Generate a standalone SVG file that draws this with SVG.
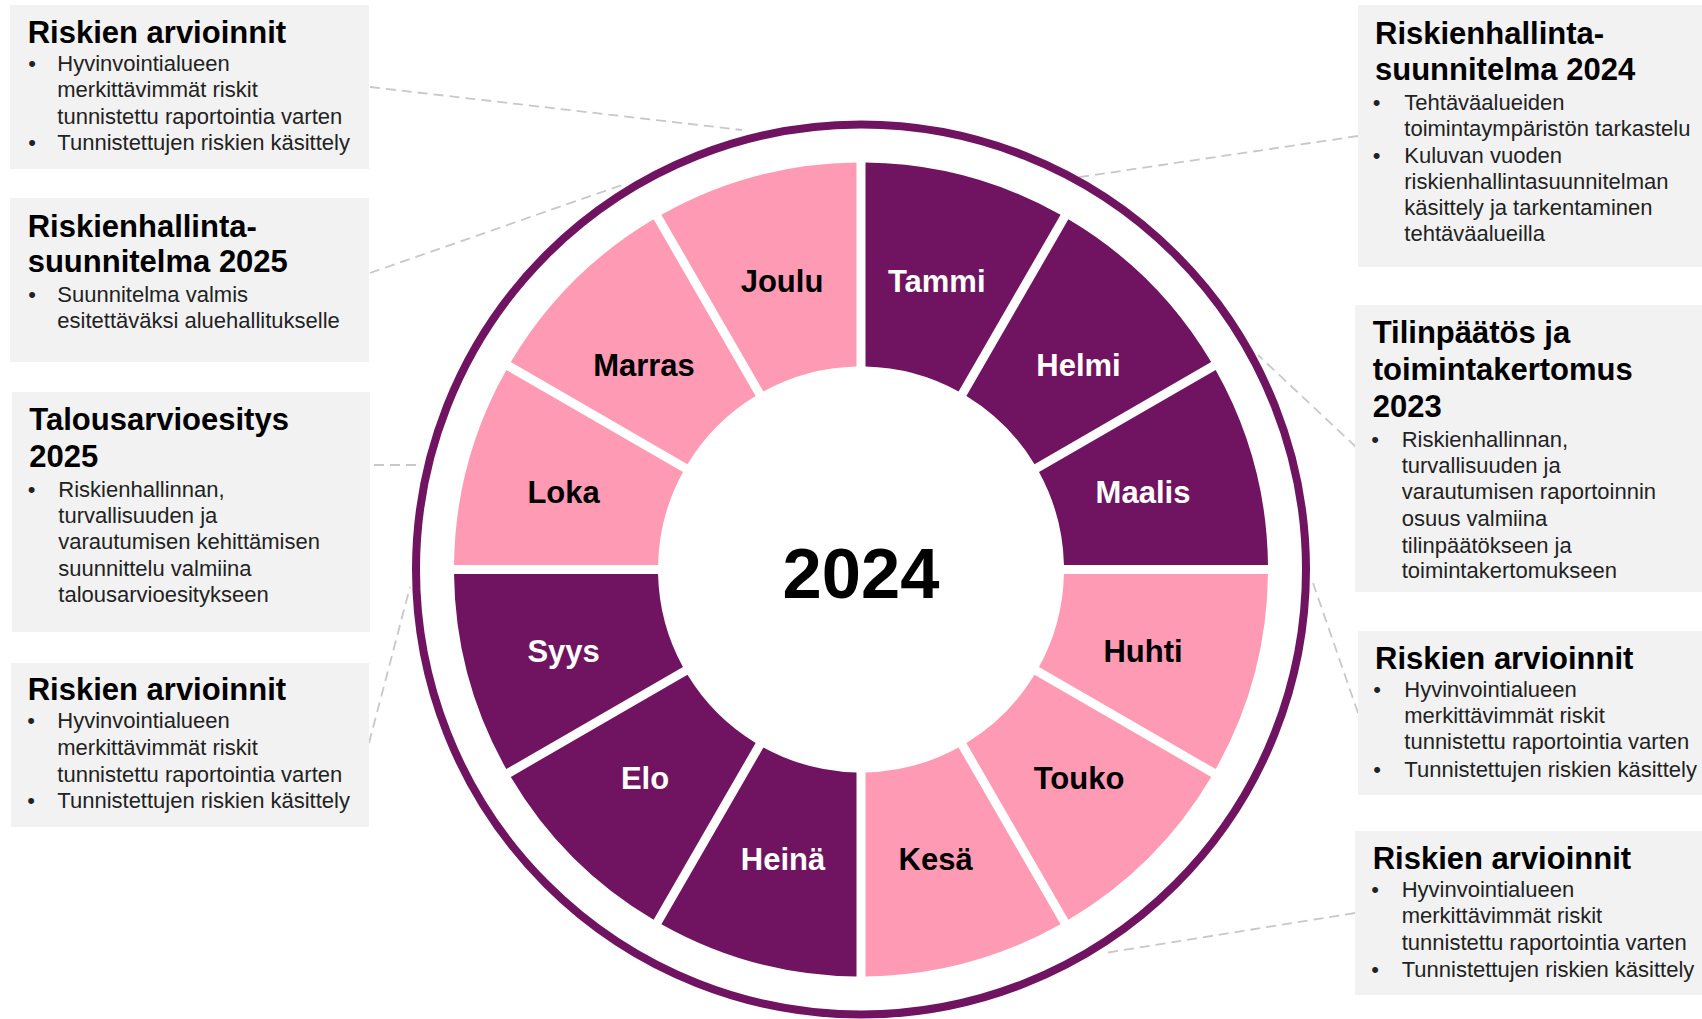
<svg xmlns="http://www.w3.org/2000/svg" xmlns:xlink="http://www.w3.org/1999/xlink" width="1702" height="1019" viewBox="0 0 1702 1019">
<style>
.box{fill:#F2F2F2}
.ttl{font-family:"Liberation Sans",Arial,sans-serif;font-weight:bold;font-size:31px;fill:#000}
.txt{font-family:"Liberation Sans",Arial,sans-serif;font-size:22px;fill:#222}
.bul{font-family:"Liberation Sans",Arial,sans-serif;font-size:22px;fill:#222;text-anchor:middle}
.mon{font-family:"Liberation Sans",Arial,sans-serif;font-weight:bold;font-size:31px;text-anchor:middle}
.dk{fill:#701461}
.pk{fill:#FF9AB4}
.lw{fill:#FFFFFF}
.lb{fill:#000000}
.con{stroke:#C8C8C8;stroke-width:1.8;stroke-dasharray:10 6;fill:none}
</style>
<defs>
<path id="wedge" d="M 865.5 162.525 A 407 407 0 0 1 1060.59 214.8 L 958.58 391.49 A 203 203 0 0 0 865.5 366.55 Z"/>
</defs>
<rect width="1702" height="1019" fill="#FFFFFF"/>
<g id="connectors">
<line class="con" x1="370" y1="87" x2="742" y2="130"/>
<line class="con" x1="370" y1="273" x2="622" y2="185"/>
<line class="con" x1="374" y1="465" x2="416" y2="465"/>
<line class="con" x1="369" y1="743" x2="410" y2="587"/>
<line class="con" x1="1358" y1="136" x2="1077" y2="177.5"/>
<line class="con" x1="1356" y1="447" x2="1258" y2="355"/>
<line class="con" x1="1358" y1="713" x2="1313" y2="583"/>
<line class="con" x1="1355" y1="913" x2="1105" y2="953"/>
</g>
<g id="ring">
<circle cx="861" cy="569.5" r="445" fill="none" stroke="#701461" stroke-width="8"/>
</g>
<g id="tammi"><use xlink:href="#wedge" class="dk"/><text class="mon lw" x="936.7" y="291.5">Tammi</text></g>
<g id="helmi"><use xlink:href="#wedge" class="dk" transform="rotate(30 861 569.5)"/><text class="mon lw" x="1078.5" y="376">Helmi</text></g>
<g id="maalis"><use xlink:href="#wedge" class="dk" transform="rotate(60 861 569.5)"/><text class="mon lw" x="1143" y="503">Maalis</text></g>
<g id="huhti"><use xlink:href="#wedge" class="pk" transform="rotate(90 861 569.5)"/><text class="mon lb" x="1143" y="661.5">Huhti</text></g>
<g id="touko"><use xlink:href="#wedge" class="pk" transform="rotate(120 861 569.5)"/><text class="mon lb" x="1079" y="788.7">Touko</text></g>
<g id="kesa"><use xlink:href="#wedge" class="pk" transform="rotate(150 861 569.5)"/><text class="mon lb" x="935.6" y="869.6">Kesä</text></g>
<g id="heina"><use xlink:href="#wedge" class="dk" transform="rotate(180 861 569.5)"/><text class="mon lw" x="783" y="869.6">Heinä</text></g>
<g id="elo"><use xlink:href="#wedge" class="dk" transform="rotate(210 861 569.5)"/><text class="mon lw" x="645" y="788.7">Elo</text></g>
<g id="syys"><use xlink:href="#wedge" class="dk" transform="rotate(240 861 569.5)"/><text class="mon lw" x="563.6" y="661.5">Syys</text></g>
<g id="loka"><use xlink:href="#wedge" class="pk" transform="rotate(270 861 569.5)"/><text class="mon lb" x="563.6" y="503">Loka</text></g>
<g id="marras"><use xlink:href="#wedge" class="pk" transform="rotate(300 861 569.5)"/><text class="mon lb" x="644" y="376">Marras</text></g>
<g id="joulu"><use xlink:href="#wedge" class="pk" transform="rotate(330 861 569.5)"/><text class="mon lb" x="782" y="291.5">Joulu</text></g>
<g id="year"><text x="861" y="597.5" font-family="Liberation Sans, Arial, sans-serif" font-weight="bold" font-size="70.5" text-anchor="middle" fill="#000">2024</text></g>

<g id="box-l1">
<rect class="box" x="10" y="5" width="359" height="164"/>
<text class="ttl" x="27.7" y="42.7">Riskien arvioinnit</text>
<text class="bul" x="32" y="70.7">•</text>
<text class="txt"><tspan x="57.3" y="70.7">Hyvinvointialueen</tspan><tspan x="57.3" y="97.3">merkittävimmät riskit</tspan><tspan x="57.3" y="123.6">tunnistettu raportointia varten</tspan></text>
<text class="bul" x="32" y="150">•</text>
<text class="txt" x="57.3" y="150">Tunnistettujen riskien käsittely</text>
</g>
<g id="box-l2">
<rect class="box" x="10" y="198" width="359" height="164"/>
<text class="ttl"><tspan x="27.7" y="237">Riskienhallinta-</tspan><tspan x="27.7" y="272">suunnitelma 2025</tspan></text>
<text class="bul" x="32" y="301.7">•</text>
<text class="txt"><tspan x="57.3" y="301.7">Suunnitelma valmis</tspan><tspan x="57.3" y="328.3">esitettäväksi aluehallitukselle</tspan></text>
</g>
<g id="box-l3">
<rect class="box" x="12" y="392" width="358" height="240"/>
<text class="ttl"><tspan x="29.3" y="430">Talousarvioesitys</tspan><tspan x="29.3" y="466.7">2025</tspan></text>
<text class="bul" x="31.7" y="496.7">•</text>
<text class="txt"><tspan x="58.3" y="496.7">Riskienhallinnan,</tspan><tspan x="58.3" y="522.7">turvallisuuden ja</tspan><tspan x="58.3" y="549.3">varautumisen kehittämisen</tspan><tspan x="58.3" y="575.5">suunnittelu valmiina</tspan><tspan x="58.3" y="601.7">talousarvioesitykseen</tspan></text>
</g>
<g id="box-l4">
<rect class="box" x="11" y="663" width="358" height="164"/>
<text class="ttl" x="27.7" y="700">Riskien arvioinnit</text>
<text class="bul" x="31" y="728.3">•</text>
<text class="txt"><tspan x="57.3" y="728.3">Hyvinvointialueen</tspan><tspan x="57.3" y="755">merkittävimmät riskit</tspan><tspan x="57.3" y="781.7">tunnistettu raportointia varten</tspan></text>
<text class="bul" x="31" y="808.3">•</text>
<text class="txt" x="57.3" y="808.3">Tunnistettujen riskien käsittely</text>
</g>
<g id="box-r1">
<rect class="box" x="1358" y="5" width="344" height="262"/>
<text class="ttl"><tspan x="1375" y="44.3">Riskienhallinta-</tspan><tspan x="1375" y="80">suunnitelma 2024</tspan></text>
<text class="bul" x="1376.7" y="110">•</text>
<text class="txt"><tspan x="1404.3" y="110">Tehtäväalueiden</tspan><tspan x="1404.3" y="136">toimintaympäristön tarkastelu</tspan></text>
<text class="bul" x="1376.7" y="163.3">•</text>
<text class="txt"><tspan x="1404.3" y="163.3">Kuluvan vuoden</tspan><tspan x="1404.3" y="189.3">riskienhallintasuunnitelman</tspan><tspan x="1404.3" y="215">käsittely ja tarkentaminen</tspan><tspan x="1404.3" y="240.7">tehtäväalueilla</tspan></text>
</g>
<g id="box-r2">
<rect class="box" x="1355" y="305" width="347" height="287"/>
<text class="ttl"><tspan x="1372.7" y="343.3">Tilinpäätös ja</tspan><tspan x="1372.7" y="380">toimintakertomus</tspan><tspan x="1372.7" y="416.7">2023</tspan></text>
<text class="bul" x="1375" y="446.7">•</text>
<text class="txt"><tspan x="1401.7" y="446.7">Riskienhallinnan,</tspan><tspan x="1401.7" y="472.7">turvallisuuden ja</tspan><tspan x="1401.7" y="499.3">varautumisen raportoinnin</tspan><tspan x="1401.7" y="525.7">osuus valmiina</tspan><tspan x="1401.7" y="552.7">tilinpäätökseen ja</tspan><tspan x="1401.7" y="578.3">toimintakertomukseen</tspan></text>
</g>
<g id="box-r3">
<rect class="box" x="1358" y="631" width="344" height="164"/>
<text class="ttl" x="1375" y="669.3">Riskien arvioinnit</text>
<text class="bul" x="1377" y="697.3">•</text>
<text class="txt"><tspan x="1404.3" y="697.3">Hyvinvointialueen</tspan><tspan x="1404.3" y="723.3">merkittävimmät riskit</tspan><tspan x="1404.3" y="749.3">tunnistettu raportointia varten</tspan></text>
<text class="bul" x="1377" y="776.7">•</text>
<text class="txt" x="1404.3" y="776.7">Tunnistettujen riskien käsittely</text>
</g>
<g id="box-r4">
<rect class="box" x="1355" y="831" width="347" height="164"/>
<text class="ttl" x="1372.7" y="869.3">Riskien arvioinnit</text>
<text class="bul" x="1375" y="896.7">•</text>
<text class="txt"><tspan x="1401.7" y="896.7">Hyvinvointialueen</tspan><tspan x="1401.7" y="923.3">merkittävimmät riskit</tspan><tspan x="1401.7" y="950">tunnistettu raportointia varten</tspan></text>
<text class="bul" x="1375" y="976.7">•</text>
<text class="txt" x="1401.7" y="976.7">Tunnistettujen riskien käsittely</text>
</g>
</svg>
